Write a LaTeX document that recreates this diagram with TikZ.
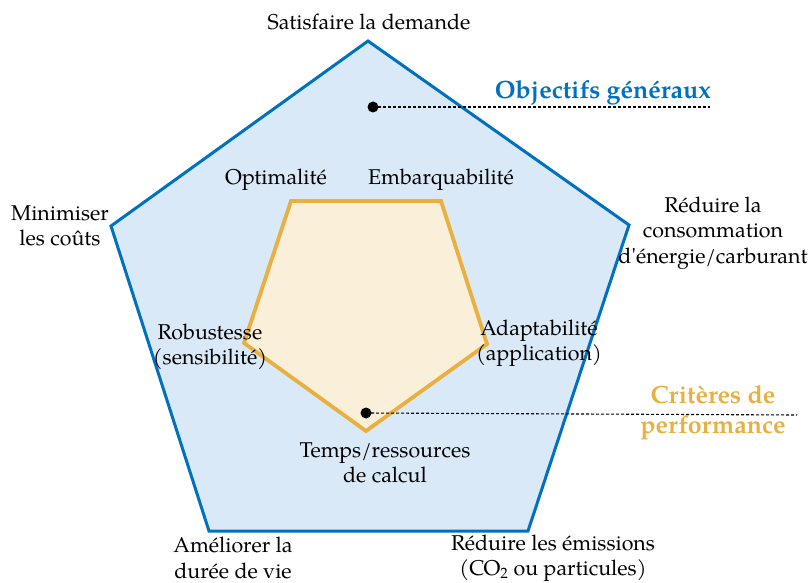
\documentclass[tikz,border=0pt]{standalone}
\usepackage{fontspec}
\setmainfont{TeX Gyre Pagella}
\definecolor{oblue}{HTML}{0070C0}
\definecolor{lblue}{HTML}{DAE9F8}
\definecolor{oorange}{HTML}{E8B040}
\definecolor{lorange}{HTML}{FAEFD9}
\begin{document}
\begin{tikzpicture}[x=1pt,y=-1pt,
  lab/.style={font=\fontsize{21.4}{25.5}\selectfont, align=center, inner sep=0pt},
  head/.style={font=\fontsize{25}{30}\selectfont\bfseries, align=center, inner sep=0pt},
  dotmark/.style={circle, fill=black, inner sep=0pt, minimum size=11pt},
  lead/.style={dash pattern=on 3pt off 2pt, line width=1.1pt}]
\useasboundingbox (0,0) rectangle (811,583);
\coordinate (o1) at (368,41);
\coordinate (o2) at (629,225);
\coordinate (o3) at (528,531);
\coordinate (o4) at (209,531);
\coordinate (o5) at (111,226);
\filldraw[fill=lblue, draw=oblue, line width=3pt, line join=miter] (o1) -- (o2) -- (o3) -- (o4) -- (o5) -- cycle;
\coordinate (i1) at (291,201);
\coordinate (i2) at (441,201);
\coordinate (i3) at (487,344);
\coordinate (i4) at (366,431);
\coordinate (i5) at (244,343);
\filldraw[fill=lorange, draw=oorange, line width=3.8pt, line join=miter] (i1) -- (i2) -- (i3) -- (i4) -- (i5) -- cycle;
% labels
\node[lab] (sat) at (369,22) {Satisfaire la demande};
\node[lab] (min) at (60,226) {Minimiser\\les coûts};
\node[lab] (red) at (713,233) {Réduire la\\consommation\\d\textquotesingle énergie/carburant};
\node[lab] (opt) at (276,180) {Optimalité};
\node[lab] (emb) at (441,180) {Embarquabilité};
\node[lab] (rob) at (210,347) {Robustesse\\(sensibilité)};
\node[lab] (ada) at (539,343) {Adaptabilité\\(application)};
\node[lab] (tem) at (385,463) {Temps/ressources\\de calcul};
\node[lab] (ame) at (233,558) {Améliorer la\\durée de vie};
\node[lab] (emi) at (553,558) {Réduire les émissions\\(CO\textsubscript{2} ou particules)};
% headings
\node[dotmark] (d1) at (373,107) {};
\coordinate (e1) at (710,107);
\draw[lead] (d1.center) -- (e1);
\node[head, text=oblue, anchor=south east] (obj) at (711,105) {Objectifs généraux};
\node[dotmark] (d2) at (366,413) {};
\coordinate (e2) at (797,415);
\draw[lead] (d2.center) -- (e2);
\node[head, text=oorange] (crit) at (713,413) {Critères de\\performance};
\end{tikzpicture}
\end{document}
